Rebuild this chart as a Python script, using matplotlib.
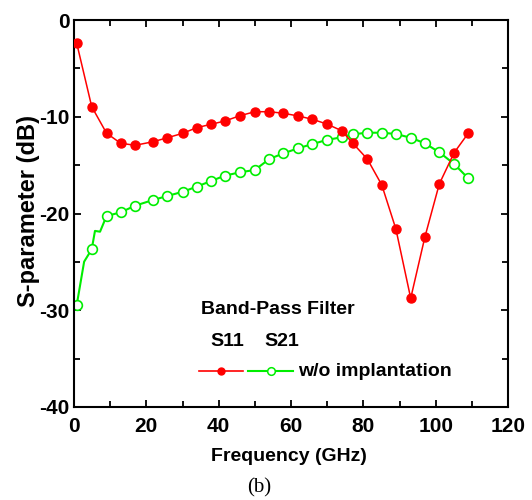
import matplotlib
matplotlib.use("Agg")
import matplotlib.pyplot as plt
from matplotlib.lines import Line2D
from matplotlib.ticker import MultipleLocator

plt.rcParams['font.family'] = ['Liberation Sans', 'DejaVu Sans']

# S11 (red, filled)
s11_freq = [0.75, 4.9, 9.0, 12.9, 16.9, 21.9, 25.8, 30.1, 33.9, 37.9, 41.7, 45.9, 50.0, 54.0,
            57.9, 62.0, 65.9, 69.9, 74.0, 77.1, 81.1, 85.1, 89.0, 93.1, 97.0, 101.0, 105.1, 109.0]
s11_db = [-2.4, -8.96, -11.7, -12.74, -12.95, -12.58, -12.17, -11.71, -11.13, -10.78, -10.44, -9.89, -9.48, -9.48,
          -9.64, -9.92, -10.26, -10.75, -11.44, -12.74, -14.37, -17.05, -21.6, -28.76, -22.46, -16.95, -13.72, -11.71]

# S21 (green, open) -- includes a few unmarked measurement points
s21_freq = [0.75, 2.8, 4.9, 5.8, 7.2, 9.0, 12.9, 16.9, 21.9, 25.8, 30.1, 33.9, 37.9, 41.7, 45.9, 50.0, 54.0,
            57.9, 62.0, 65.9, 69.9, 74.0, 77.1, 81.1, 85.1, 89.0, 93.1, 97.0, 101.0, 105.1, 109.0]
s21_db = [-29.46, -24.98, -23.7, -21.8, -21.88, -20.26, -19.88, -19.19, -18.6, -18.19, -17.75, -17.23, -16.64,
          -16.09, -15.74, -15.5, -14.37, -13.78, -13.26, -12.82, -12.4, -12.12, -11.81, -11.65, -11.65, -11.78,
          -12.17, -12.74, -13.67, -14.88, -16.36]
s21_unmarked = [1, 3, 4]

xticks = [0, 20, 40, 60, 80, 100, 120]
yticks = [0, -10, -20, -30, -40]

W, H = 532, 500
fig = plt.figure(figsize=(W / 100, H / 100), dpi=100)
L, R, T, B = 74, 508, 20, 407
ax = fig.add_axes([L / W, 1 - B / H, (R - L) / W, (B - T) / H])

red = '#FF0000'
green = '#00EE00'
ax.plot(s11_freq, s11_db, '-', color=red, lw=1.1, marker='o', ms=6.5,
        mfc=red, mec=red, zorder=3)
marked = [i for i in range(len(s21_freq)) if i not in s21_unmarked]
ax.plot(s21_freq, s21_db, '-', color=green, lw=1.5, marker='o', ms=7,
        mfc='white', mec=green, mew=1.2, markevery=marked, zorder=2)

ax.set_xlim(0, 120)
ax.set_ylim(-40, 0)
ax.set_xticks(xticks)
ax.set_yticks(yticks)
ax.set_xticklabels([str(v) for v in xticks])
ax.set_yticklabels([str(v) for v in yticks])
ax.xaxis.set_minor_locator(MultipleLocator(10))
ax.yaxis.set_minor_locator(MultipleLocator(5))

for s in ax.spines.values():
    s.set_linewidth(1.5)
ax.tick_params(which='both', direction='in', top=True, right=True, width=1.3)
ax.tick_params(which='major', length=5)
ax.tick_params(which='minor', length=4)
ax.tick_params(axis='x', which='major', pad=7, labelsize=15)
ax.tick_params(axis='y', which='major', pad=3, labelsize=15)
for lab in ax.get_xticklabels() + ax.get_yticklabels():
    lab.set_fontweight('bold')

ax.set_xlabel('Frequency (GHz)', fontsize=14, fontweight='bold', va='center')
ax.xaxis.set_label_coords(0.495, -0.129)
ax.set_ylabel('S-parameter (dB)', fontsize=17, fontweight='bold', va='center')
ax.yaxis.set_label_coords(-0.104, 0.506)

def fx(px):
    return px / W

def fy(py):
    return 1 - py / H

# custom legend
fig.text(fx(201), fy(309.5), 'Band-Pass Filter', fontsize=14, fontweight='bold', ha='left', va='center')
fig.text(fx(227), fy(341), 'S11', fontsize=14, fontweight='bold', ha='center', va='center')
fig.text(fx(282), fy(341), 'S21', fontsize=14, fontweight='bold', ha='center', va='center')
fig.add_artist(Line2D([fx(199), fx(243)], [fy(371), fy(371)], color=red, lw=1.2, transform=fig.transFigure))
fig.add_artist(Line2D([fx(221)], [fy(371)], color=red, marker='o', ms=5, mfc=red, mec=red, transform=fig.transFigure))
fig.add_artist(Line2D([fx(248), fx(293)], [fy(371), fy(371)], color=green, lw=1.5, transform=fig.transFigure))
fig.add_artist(Line2D([fx(271)], [fy(371)], color=green, marker='o', ms=5.5, mfc='white', mec=green, mew=1.1,
                      transform=fig.transFigure))
fig.text(fx(298), fy(371), 'w/o implantation', fontsize=14, fontweight='bold', ha='left', va='center')

fig.text(fx(259), fy(488), '(b)', fontsize=15, family=['Liberation Serif', 'DejaVu Serif'], ha='center', va='center')

fig.savefig('out.png', dpi=100)
